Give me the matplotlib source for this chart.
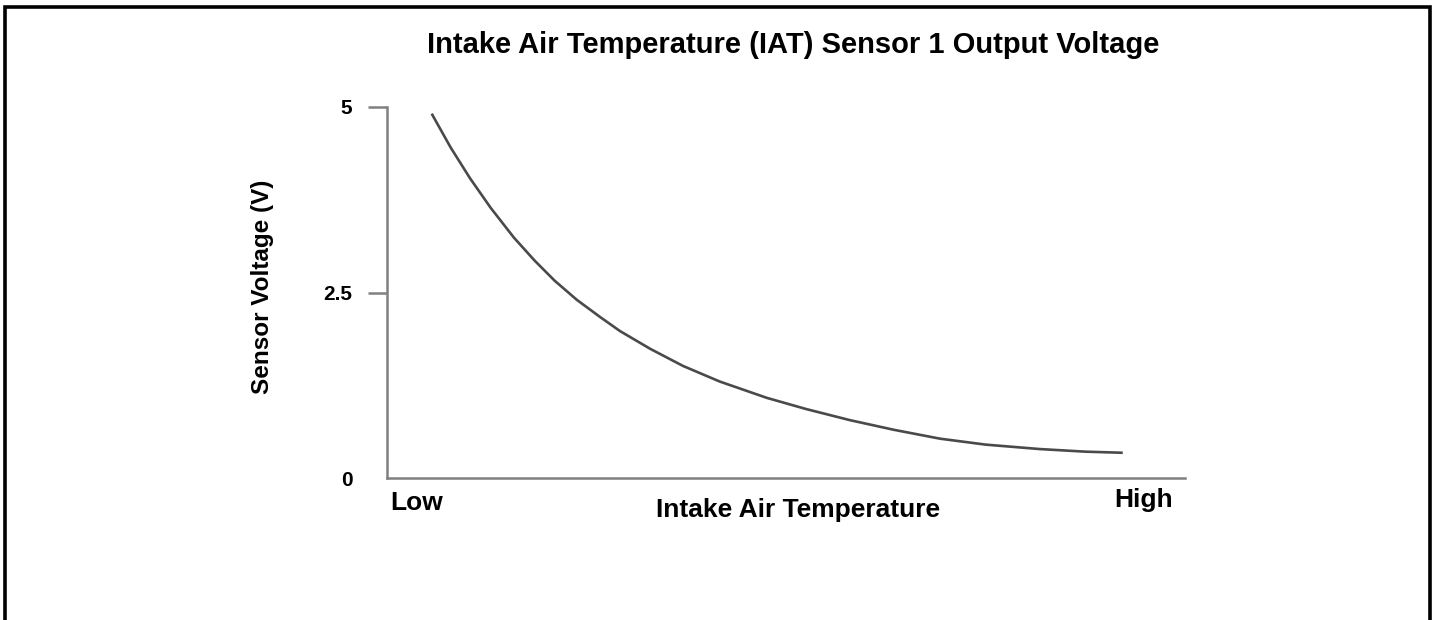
import matplotlib
matplotlib.use("Agg")
import matplotlib.pyplot as plt
from matplotlib.patches import Rectangle

# ── data (x: 0 = Low .. 100 = High, y: volts) ──
temp_pos = [5.6, 8.0, 10.4, 13.0, 15.9, 18.5, 21.0, 23.8, 26.7, 29.2, 33.0, 37.1, 41.7,
            47.6, 52.5, 58.0, 63.5, 69.3, 75.0, 81.8, 87.5, 92.2]
voltage = [4.91, 4.45, 4.04, 3.64, 3.24, 2.93, 2.66, 2.40, 2.17, 1.98, 1.74, 1.51, 1.30,
           1.08, 0.93, 0.78, 0.65, 0.53, 0.45, 0.39, 0.355, 0.34]
y_ticks = [0, 2.5, 5]
y_tick_labels = ["0", "2.5", "5"]
x_end_labels = ["Low", "High"]

plt.rcParams["font.family"] = ["Liberation Sans", "DejaVu Sans"]
plt.rcParams["font.weight"] = "bold"

fig = plt.figure(figsize=(14.35, 6.2), dpi=100)
ax = fig.add_axes([387 / 1435, 1 - 478 / 620, (1185 - 387) / 1435, (478 - 107) / 620])

ax.plot(temp_pos, voltage, color="#4a4a4a", lw=1.9, solid_joinstyle="round",
        solid_capstyle="butt")

ax.set_xlim(0, 100)
ax.set_ylim(0, 5)
for side in ("top", "right"):
    ax.spines[side].set_visible(False)
for side in ("left", "bottom"):
    ax.spines[side].set_color("#808080")
    ax.spines[side].set_linewidth(1.8)

ax.set_xticks([])
ax.set_yticks(y_ticks)
ax.set_yticklabels(y_tick_labels, fontsize=15, fontweight="bold")
ax.tick_params(axis="y", length=14, width=1.8, color="#808080", pad=11)
ax.yaxis.get_major_ticks()[0].tick1line.set_visible(False)

# Low / High end labels under the x axis
ax.text(0.004, -0.068, x_end_labels[0], transform=ax.transAxes, ha="left", va="center",
        fontsize=19, fontweight="bold")
ax.text(0.985, -0.06, x_end_labels[1], transform=ax.transAxes, ha="right", va="center",
        fontsize=19, fontweight="bold")

fig.text(798 / 1435, 1 - 510 / 620, "Intake Air Temperature", ha="center", va="center",
         fontsize=19, fontweight="bold")
fig.text(262 / 1435, 1 - 287 / 620, "Sensor Voltage (V)", rotation=90, ha="center", va="center",
         fontsize=17.5, fontweight="bold")
fig.text(793 / 1435, 1 - 45 / 620, "Intake Air Temperature (IAT) Sensor 1 Output Voltage",
         ha="center", va="center", fontsize=21, fontweight="bold")

# black frame around the picture (bottom edge runs off the image)
fig.add_artist(Rectangle((4.5 / 1435, -0.1), (1429.5 - 4.5) / 1435, 1.1 - 6.5 / 620,
                         transform=fig.transFigure, fill=False, edgecolor="black", lw=2.6))

fig.savefig("out.png", dpi=100, facecolor="white")
